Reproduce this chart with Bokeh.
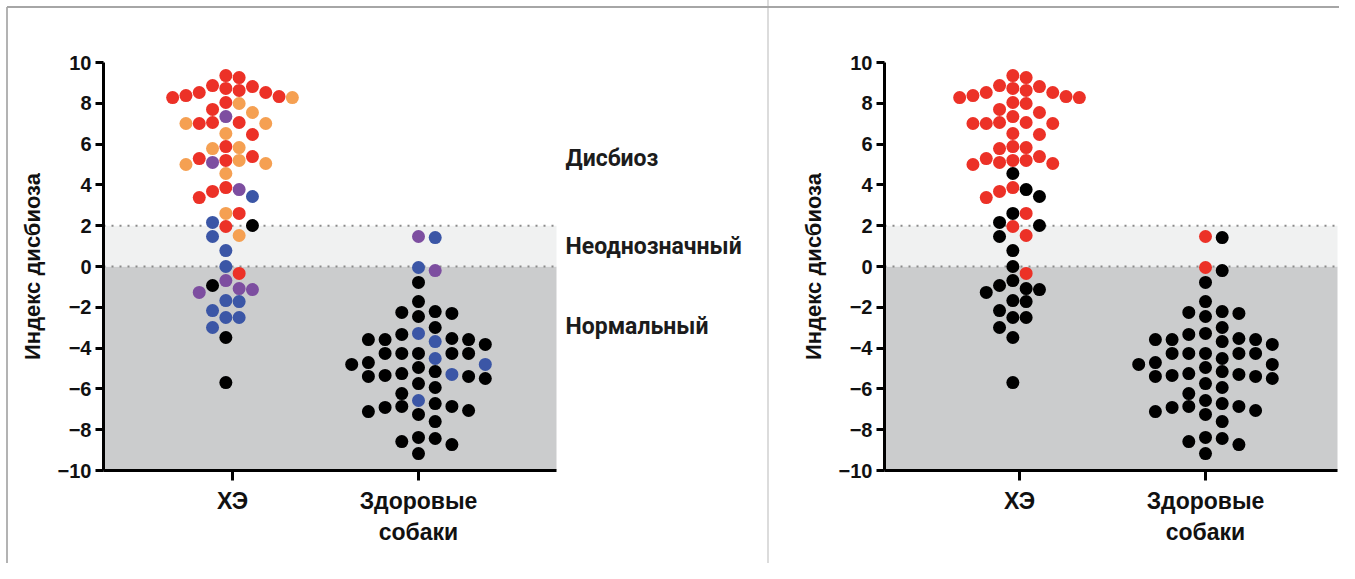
import numpy as np
from bokeh.plotting import figure
from bokeh.layouts import row
from bokeh.models import BoxAnnotation, FixedTicker, ColumnDataSource
from bokeh.core.properties import value
from bokeh.embed import file_html
from bokeh.resources import INLINE

# ---------------- data ----------------
categories = ["ХЭ", "Здоровые\nсобаки"]
y_ticks = [-10, -8, -6, -4, -2, 0, 2, 4, 6, 8, 10]
zone_names = ["Дисбиоз", "Неоднозначный", "Нормальный"]
zone_bounds = [0, 2]  # ambiguous zone between these values

ce_values = [8.87, 9.36, 9.26, 8.82, 8.28, 8.33, 8.53, 8.28, 8.53, 8.73,
             8.38, 8.63, 8.04, 7.70, 7.99, 7.55, 7.35, 7.06, 7.06, 7.01,
             7.01, 7.01, 6.47, 6.52, 5.78, 5.88, 5.83, 5.05, 5.20, 5.20,
             5.39, 5.29, 5.10, 5.00, 4.56, 3.68, 3.38, 3.77, 3.43, 3.87,
             2.60, 2.60, 2.01, 1.96, 2.16, 1.52, 1.47, 0.78, 0.00, -0.34,
             -0.69, -0.93, -1.27, -1.13, -1.08, -1.72, -1.67, -2.16, -2.50, -2.50,
             -2.99, -3.48, -5.69]
ce_class_left = ["R", "R", "R", "R", "R", "R", "R", "O", "R", "R",
                 "R", "R", "R", "R", "O", "O", "P", "R", "R", "R",
                 "O", "O", "R", "O", "O", "R", "O", "O", "R", "O",
                 "R", "R", "P", "O", "O", "R", "R", "P", "B", "R",
                 "O", "R", "K", "R", "B", "O", "B", "B", "B", "R",
                 "P", "K", "P", "P", "P", "B", "B", "B", "B", "B",
                 "B", "K", "K"]
ce_class_right = ["R", "R", "R", "R", "R", "R", "R", "R", "R", "R",
                  "R", "R", "R", "R", "R", "R", "R", "R", "R", "R",
                  "R", "R", "R", "R", "R", "R", "R", "R", "R", "R",
                  "R", "R", "R", "R", "K", "R", "R", "K", "K", "R",
                  "K", "R", "K", "R", "K", "R", "K", "K", "K", "R",
                  "K", "K", "K", "K", "K", "K", "K", "K", "K", "K",
                  "K", "K", "K"]

healthy_values = [1.47, 1.42, -0.05, -0.20, -0.78, -1.72, -2.21, -2.30, -2.45, -2.25,
                  -2.99, -3.28, -3.33, -3.53, -3.68, -3.58, -3.58, -3.58, -3.82, -4.26,
                  -4.26, -4.26, -4.26, -4.26, -4.51, -4.80, -4.95, -4.71, -4.80, -5.15,
                  -5.25, -5.39, -5.34, -5.29, -5.49, -5.39, -5.74, -5.93, -6.23, -6.57,
                  -6.86, -6.91, -7.11, -7.06, -6.86, -6.72, -7.25, -7.60, -8.58, -8.38,
                  -8.73, -8.43, -9.17]
healthy_class_left = ["P", "B", "B", "P", "K", "K", "K", "K", "K", "K",
                      "K", "B", "K", "K", "B", "K", "K", "K", "K", "K",
                      "K", "K", "K", "K", "B", "B", "K", "K", "K", "K",
                      "K", "K", "K", "B", "K", "K", "K", "K", "K", "B",
                      "K", "K", "K", "K", "K", "K", "K", "K", "K", "K",
                      "K", "K", "K"]
healthy_class_right = ["R", "K", "R", "K", "K", "K", "K", "K", "K", "K",
                       "K", "K", "K", "K", "K", "K", "K", "K", "K", "K",
                       "K", "K", "K", "K", "K", "K", "K", "K", "K", "K",
                       "K", "K", "K", "K", "K", "K", "K", "K", "K", "K",
                       "K", "K", "K", "K", "K", "K", "K", "K", "K", "K",
                       "K", "K", "K"]

# ---------------- styles ----------------
PALETTE = {"R": "#ec3127", "O": "#f5a052", "P": "#7d4ea0", "B": "#3b56a6", "K": "#000000"}
FONT = "Liberation Sans"
DOT = 13            # marker diameter, px
PX_PER_X = 186.0    # px per category unit
PX_PER_Y = 20.4     # px per y unit
PANEL_W = 453       # width of the shaded panel, px
HEIGHT = 563
TOP = 62
BOTTOM = HEIGHT - 470


def swarm(values, center, step_px, half):
    """Column-based beeswarm: place each point in the nearest free column."""
    vals = np.asarray(values, dtype=float)
    order = np.argsort(-vals, kind="stable")
    if half:
        cands = []
        for k in range(15):
            cands += [-(k + 0.5), k + 0.5]
    else:
        cands = [0]
        for k in range(1, 15):
            cands += [k, -k]
    min_dy = (DOT - 0.5) / PX_PER_Y
    placed = {}
    xs = np.zeros(len(vals))
    for i in order:
        for c in cands:
            col = placed.setdefault(c, [])
            if all(abs(vals[i] - v) >= min_dy for v in col):
                col.append(vals[i])
                xs[i] = center + c * step_px / PX_PER_X
                break
    return xs


ce_x = swarm(ce_values, 1, 13.3, True)
healthy_x = swarm(healthy_values, 2, 16.7, False)


def make_panel(width, left_px, cat_px, right_px, ce_cls, h_cls, zone_labels, css):
    frame_w = width - left_px - right_px
    x0 = 1 - cat_px / PX_PER_X
    x1 = x0 + frame_w / PX_PER_X
    x_panel_end = x0 + PANEL_W / PX_PER_X
    p = figure(width=width, height=HEIGHT, x_range=(x0, x1),
               y_range=(-10, 10), output_backend="svg", toolbar_location=None,
               min_border_left=left_px, min_border_right=right_px,
               min_border_top=TOP, min_border_bottom=BOTTOM)
    p.outline_line_color = None
    p.xgrid.visible = False
    p.ygrid.visible = False
    p.background_fill_color = "white"
    p.border_fill_color = None
    p.styles = css

    p.add_layout(BoxAnnotation(bottom=-10, top=zone_bounds[0], right=x_panel_end,
                               fill_color="#cbcccd", fill_alpha=1, line_color=None,
                               level="underlay"))
    p.add_layout(BoxAnnotation(bottom=zone_bounds[0], top=zone_bounds[1], right=x_panel_end,
                               fill_color="#f0f1f1", fill_alpha=1, line_color=None,
                               level="underlay"))
    p.segment(x0=[x0] * len(zone_bounds), x1=[x_panel_end] * len(zone_bounds),
              y0=zone_bounds, y1=zone_bounds, line_color="#8a8a8a",
              line_width=2, line_dash="2 6")

    src_ce = ColumnDataSource(dict(x=ce_x, y=ce_values, c=[PALETTE[k] for k in ce_cls]))
    src_h = ColumnDataSource(dict(x=healthy_x, y=healthy_values, c=[PALETTE[k] for k in h_cls]))
    for s in (src_ce, src_h):
        p.scatter("x", "y", source=s, size=DOT, fill_color="c", line_color=None)

    p.xaxis.bounds = (x0, x_panel_end)
    p.yaxis.ticker = FixedTicker(ticks=y_ticks)
    p.xaxis.ticker = FixedTicker(ticks=[1, 2])
    p.xaxis.major_label_overrides = {1: categories[0], 2: categories[1]}
    for ax in (p.xaxis[0], p.yaxis[0]):
        ax.axis_line_width = 3
        ax.axis_line_color = "black"
        ax.major_tick_line_width = 3
        ax.major_tick_line_color = "black"
        ax.major_tick_in = 0
        ax.minor_tick_line_color = None
        ax.major_label_text_font = FONT
        ax.major_label_text_font_style = "bold"
        ax.major_label_text_color = "#111111"
    p.yaxis.major_tick_out = 8
    p.xaxis.major_tick_out = 10
    p.yaxis.major_label_text_font_size = "20px"
    p.xaxis.major_label_text_font_size = "23px"
    p.yaxis.major_label_standoff = 4
    p.xaxis.major_label_standoff = 7
    p.yaxis.axis_label = "Индекс дисбиоза"
    p.yaxis.axis_label_text_font = FONT
    p.yaxis.axis_label_text_font_style = "bold"
    p.yaxis.axis_label_text_font_size = "22px"
    p.yaxis.axis_label_text_color = "#111111"
    p.yaxis.axis_label_standoff = 10

    if zone_labels:
        xl = x0 + (565 - left_px) / PX_PER_X
        p.text(x=[xl] * 3, y=[5.3, 1.0, -2.95], text=zone_names,
               text_font=value("Roboto"), text_font_style="bold",
               text_font_size="23px", text_color="#1c1c1c", text_baseline="middle")
    return p


css_left = {"background-image": "linear-gradient(#a6a6a6,#a6a6a6), linear-gradient(#b3b3b3,#b3b3b3)",
            "background-size": "100% 2px, 2px 100%",
            "background-position": "7px 6px, 6px 7px",
            "background-repeat": "no-repeat"}
css_right = {"background-image": "linear-gradient(#a6a6a6,#a6a6a6), linear-gradient(#dcdcdc,#dcdcdc)",
             "background-size": "100% 2px, 2px 100%",
             "background-position": "0px 6px, 0px 0px",
             "background-repeat": "no-repeat"}

p1 = make_panel(767, 103, 129, 5, ce_class_left, healthy_class_left, True, css_left)
p2 = make_panel(572, 117, 135, 1, ce_class_right, healthy_class_right, False, css_right)

layout = row(p1, p2)
open("out.html", "w").write(file_html(layout, INLINE))
